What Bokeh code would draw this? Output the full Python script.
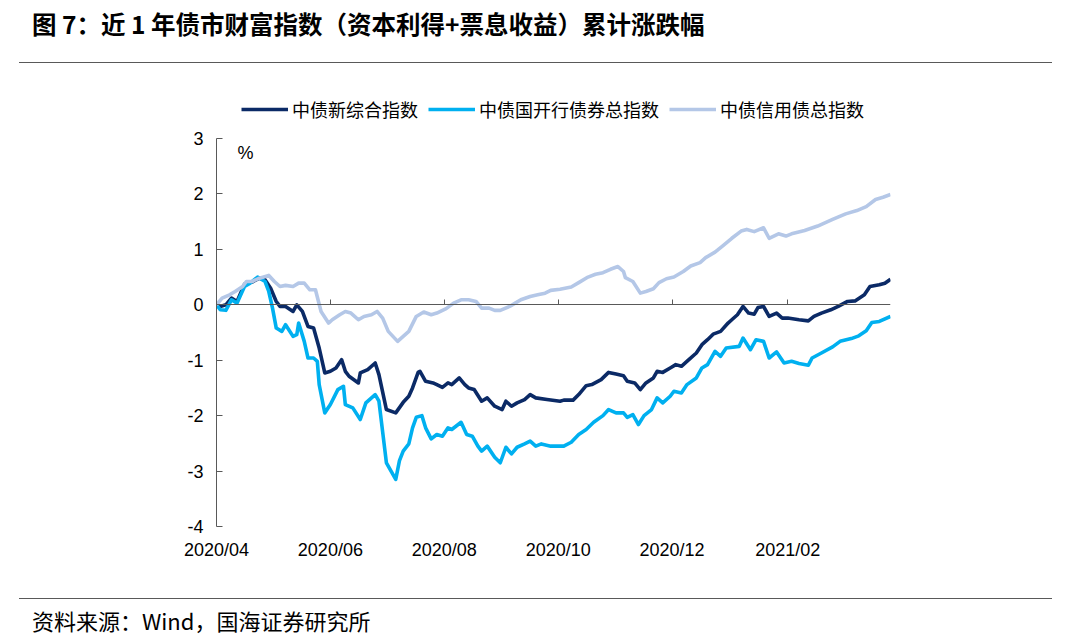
import pandas as pd
from bokeh.plotting import figure
from bokeh.models import (Range1d, DatetimeAxis, FixedTicker, DatetimeTickFormatter,
                          CustomJSTickFormatter, Legend, LegendItem, Label, Div, ColumnDataSource)
from bokeh.layouts import column
from bokeh.embed import file_html
from bokeh.resources import INLINE

TITLE = "图 7：近 1 年债市财富指数（资本利得+票息收益）累计涨跌幅"
SOURCE = "资料来源：Wind，国海证券研究所"
SERIES_NAMES = ["中债新综合指数", "中债国开行债券总指数", "中债信用债总指数"]
SERIES_COLORS = ["#0B2A66", "#00B0F0", "#B4C7E7"]
X_TICKS = ["2020-04-01", "2020-06-01", "2020-08-01", "2020-10-01", "2020-12-01", "2021-02-01"]
Y_TICKS = [-4, -3, -2, -1, 0, 1, 2, 3]
X_START = "2020-04-01"
X_END = "2021-03-28"

composite_dates = [
    "2020-04-01", "2020-04-03", "2020-04-06", "2020-04-09", "2020-04-12", "2020-04-16", "2020-04-20",
    "2020-04-24", "2020-04-27", "2020-04-30", "2020-05-03", "2020-05-05", "2020-05-08", "2020-05-12",
    "2020-05-14", "2020-05-17", "2020-05-20", "2020-05-23", "2020-05-26", "2020-05-29", "2020-06-01",
    "2020-06-04", "2020-06-07", "2020-06-09", "2020-06-11", "2020-06-16", "2020-06-17", "2020-06-21",
    "2020-06-25", "2020-06-27", "2020-07-01", "2020-07-06", "2020-07-10", "2020-07-13", "2020-07-15",
    "2020-07-18", "2020-07-19", "2020-07-22", "2020-07-26", "2020-07-28", "2020-07-31", "2020-08-03",
    "2020-08-05", "2020-08-09", "2020-08-12", "2020-08-14", "2020-08-17", "2020-08-21", "2020-08-24",
    "2020-08-28", "2020-09-01", "2020-09-03", "2020-09-06", "2020-09-09", "2020-09-13", "2020-09-16",
    "2020-09-19", "2020-09-25", "2020-10-02", "2020-10-04", "2020-10-09", "2020-10-12", "2020-10-16",
    "2020-10-19", "2020-10-24", "2020-10-28", "2020-11-01", "2020-11-05", "2020-11-07", "2020-11-11",
    "2020-11-14", "2020-11-17", "2020-11-21", "2020-11-23", "2020-11-26", "2020-11-30", "2020-12-03",
    "2020-12-06", "2020-12-10", "2020-12-14", "2020-12-17", "2020-12-20", "2020-12-23", "2020-12-27",
    "2020-12-31", "2021-01-02", "2021-01-05", "2021-01-08", "2021-01-11", "2021-01-14", "2021-01-16",
    "2021-01-19", "2021-01-22", "2021-01-26", "2021-01-29", "2021-02-01", "2021-02-07", "2021-02-12",
    "2021-02-15", "2021-02-19", "2021-02-24", "2021-02-28", "2021-03-05", "2021-03-09", "2021-03-14",
    "2021-03-17", "2021-03-22", "2021-03-25", "2021-03-28",
]
composite_values = [
    0.00, -0.03, 0.00, 0.12, 0.06, 0.37, 0.41,
    0.48, 0.45, 0.30, 0.06, -0.03, -0.03, -0.12,
    0.00, -0.12, -0.39, -0.42, -0.78, -1.23, -1.20,
    -1.14, -0.99, -1.20, -1.29, -1.41, -1.23, -1.17,
    -1.05, -1.26, -1.89, -1.95, -1.76, -1.65, -1.50,
    -1.22, -1.20, -1.38, -1.41, -1.44, -1.49, -1.41,
    -1.44, -1.32, -1.44, -1.50, -1.53, -1.74, -1.68,
    -1.83, -1.89, -1.74, -1.83, -1.77, -1.71, -1.62,
    -1.68, -1.71, -1.74, -1.72, -1.72, -1.62, -1.46,
    -1.44, -1.35, -1.22, -1.25, -1.28, -1.38, -1.41,
    -1.53, -1.41, -1.32, -1.20, -1.22, -1.14, -1.08,
    -1.11, -0.99, -0.87, -0.72, -0.63, -0.53, -0.48,
    -0.33, -0.27, -0.18, -0.03, -0.15, -0.17, -0.05,
    -0.03, -0.21, -0.15, -0.24, -0.24, -0.27, -0.29,
    -0.21, -0.15, -0.09, -0.03, 0.06, 0.07, 0.18,
    0.33, 0.36, 0.39, 0.46,
]

cdb_dates = [
    "2020-04-01", "2020-04-03", "2020-04-06", "2020-04-09", "2020-04-12", "2020-04-16", "2020-04-19",
    "2020-04-23", "2020-04-27", "2020-04-29", "2020-05-01", "2020-05-03", "2020-05-06", "2020-05-08",
    "2020-05-12", "2020-05-14", "2020-05-15", "2020-05-18", "2020-05-20", "2020-05-23", "2020-05-25",
    "2020-05-26", "2020-05-29", "2020-06-01", "2020-06-05", "2020-06-08", "2020-06-09", "2020-06-13",
    "2020-06-17", "2020-06-20", "2020-06-25", "2020-06-27", "2020-07-01", "2020-07-06", "2020-07-08",
    "2020-07-10", "2020-07-13", "2020-07-15", "2020-07-17", "2020-07-20", "2020-07-22", "2020-07-25",
    "2020-07-28", "2020-07-31", "2020-08-03", "2020-08-05", "2020-08-10", "2020-08-13", "2020-08-16",
    "2020-08-19", "2020-08-21", "2020-08-24", "2020-08-28", "2020-08-31", "2020-09-03", "2020-09-06",
    "2020-09-09", "2020-09-13", "2020-09-16", "2020-09-19", "2020-09-22", "2020-09-27", "2020-10-04",
    "2020-10-08", "2020-10-12", "2020-10-16", "2020-10-20", "2020-10-25", "2020-10-28", "2020-11-01",
    "2020-11-05", "2020-11-07", "2020-11-10", "2020-11-13", "2020-11-16", "2020-11-20", "2020-11-23",
    "2020-11-26", "2020-11-30", "2020-12-02", "2020-12-06", "2020-12-09", "2020-12-14", "2020-12-17",
    "2020-12-20", "2020-12-24", "2020-12-27", "2020-12-30", "2021-01-06", "2021-01-08", "2021-01-12",
    "2021-01-15", "2021-01-19", "2021-01-22", "2021-01-26", "2021-01-30", "2021-02-03", "2021-02-07",
    "2021-02-12", "2021-02-14", "2021-02-19", "2021-02-25", "2021-03-01", "2021-03-07", "2021-03-11",
    "2021-03-15", "2021-03-18", "2021-03-22", "2021-03-28",
]
cdb_values = [
    0.00, -0.09, -0.10, 0.09, 0.03, 0.33, 0.39,
    0.50, 0.42, 0.24, -0.06, -0.42, -0.48, -0.36,
    -0.57, -0.54, -0.33, -0.66, -0.96, -0.96, -1.02,
    -1.44, -1.95, -1.80, -1.53, -1.47, -1.80, -1.86,
    -2.07, -1.77, -1.62, -1.74, -2.85, -3.15, -2.81,
    -2.64, -2.51, -2.22, -2.03, -2.00, -2.22, -2.42,
    -2.34, -2.37, -2.22, -2.25, -2.12, -2.34, -2.37,
    -2.55, -2.64, -2.55, -2.75, -2.85, -2.57, -2.69,
    -2.57, -2.51, -2.46, -2.55, -2.51, -2.55, -2.55,
    -2.48, -2.34, -2.25, -2.12, -2.00, -1.89, -1.95,
    -1.95, -2.03, -1.98, -2.16, -2.00, -1.89, -1.68,
    -1.77, -1.65, -1.56, -1.59, -1.44, -1.32, -1.14,
    -1.08, -0.84, -0.93, -0.78, -0.75, -0.60, -0.81,
    -0.63, -0.66, -0.96, -0.85, -1.05, -1.02, -1.06,
    -1.09, -0.96, -0.87, -0.76, -0.66, -0.61, -0.56,
    -0.47, -0.32, -0.30, -0.21,
]

credit_dates = [
    "2020-04-01", "2020-04-04", "2020-04-08", "2020-04-11", "2020-04-15", "2020-04-17", "2020-04-20",
    "2020-04-24", "2020-04-29", "2020-05-02", "2020-05-05", "2020-05-08", "2020-05-12", "2020-05-15",
    "2020-05-18", "2020-05-21", "2020-05-24", "2020-05-27", "2020-05-31", "2020-06-02", "2020-06-06",
    "2020-06-09", "2020-06-12", "2020-06-16", "2020-06-19", "2020-06-23", "2020-06-26", "2020-06-29",
    "2020-07-02", "2020-07-07", "2020-07-10", "2020-07-13", "2020-07-17", "2020-07-21", "2020-07-25",
    "2020-07-28", "2020-08-02", "2020-08-06", "2020-08-10", "2020-08-14", "2020-08-18", "2020-08-21",
    "2020-08-25", "2020-08-28", "2020-08-31", "2020-09-05", "2020-09-08", "2020-09-11", "2020-09-16",
    "2020-09-20", "2020-09-24", "2020-09-27", "2020-10-02", "2020-10-08", "2020-10-12", "2020-10-17",
    "2020-10-21", "2020-10-25", "2020-10-29", "2020-11-02", "2020-11-05", "2020-11-06", "2020-11-10",
    "2020-11-14", "2020-11-17", "2020-11-21", "2020-11-24", "2020-11-28", "2020-12-02", "2020-12-07",
    "2020-12-11", "2020-12-16", "2020-12-19", "2020-12-24", "2020-12-28", "2021-01-02", "2021-01-07",
    "2021-01-10", "2021-01-14", "2021-01-19", "2021-01-22", "2021-01-27", "2021-01-31", "2021-02-03",
    "2021-02-10", "2021-02-17", "2021-02-25", "2021-03-04", "2021-03-10", "2021-03-15", "2021-03-20",
    "2021-03-24", "2021-03-28",
]
credit_values = [
    0.00, 0.12, 0.18, 0.24, 0.33, 0.42, 0.42,
    0.48, 0.53, 0.42, 0.33, 0.35, 0.33, 0.39,
    0.39, 0.27, 0.27, -0.12, -0.33, -0.27, -0.18,
    -0.12, -0.15, -0.27, -0.21, -0.18, -0.12, -0.24,
    -0.48, -0.66, -0.57, -0.48, -0.21, -0.13, -0.18,
    -0.15, -0.07, 0.03, 0.09, 0.09, 0.06, -0.06,
    -0.06, -0.10, -0.10, -0.03, 0.03, 0.09, 0.15,
    0.18, 0.21, 0.26, 0.28, 0.32, 0.40, 0.50,
    0.55, 0.58, 0.64, 0.69, 0.60, 0.49, 0.42,
    0.21, 0.24, 0.29, 0.40, 0.47, 0.50, 0.60,
    0.70, 0.76, 0.85, 0.95, 1.06, 1.20, 1.33,
    1.36, 1.32, 1.39, 1.20, 1.28, 1.24, 1.28,
    1.34, 1.42, 1.54, 1.64, 1.70, 1.77, 1.90,
    1.94, 1.99,
]

FONT_CJK = "Noto Sans CJK SC"
FONT_NUM = "Liberation Sans"

# frame extends above the value 3 so that legend and unit label fit inside it
Y_TOP = 3.884

p = figure(width=1064, height=529, output_backend="svg", toolbar_location=None,
           x_axis_type="datetime",
           x_range=Range1d(pd.Timestamp(X_START), pd.Timestamp(X_END)),
           y_range=Range1d(-4, Y_TOP),
           min_border_left=216, min_border_right=174, min_border_top=25, min_border_bottom=67)
p.outline_line_color = None
p.xgrid.visible = False
p.ygrid.visible = False
p.background_fill_color = "white"
p.border_fill_color = "white"

tick_ms = [pd.Timestamp(t).timestamp() * 1000 for t in X_TICKS]
fmt = "%Y/%m"

# label axis (bottom)
xa = p.xaxis[0]
xa.ticker = FixedTicker(ticks=tick_ms)
xa.formatter = DatetimeTickFormatter(days=fmt, months=fmt, years=fmt, hours=fmt, minutes=fmt,
                                     seconds=fmt, milliseconds=fmt, microseconds=fmt, minsec=fmt, hourmin=fmt)
xa.axis_line_color = None
xa.major_tick_line_color = None
xa.minor_tick_line_color = None
xa.major_label_standoff = 7
xa.major_label_text_font = FONT_NUM
xa.major_label_text_font_size = "18px"
xa.major_label_text_color = "#000000"

# zero-line axis with upward ticks
za = DatetimeAxis(fixed_location=0, ticker=FixedTicker(ticks=tick_ms),
                  formatter=CustomJSTickFormatter(code="return ''"))
za.axis_line_color = "#595959"
za.axis_line_width = 1
za.major_tick_line_color = "#595959"
za.major_tick_in = 5
za.major_tick_out = 0
za.minor_tick_line_color = None
za.major_label_text_font_size = "1px"
za.major_label_standoff = 0
p.add_layout(za, "below")

ya = p.yaxis[0]
ya.ticker = FixedTicker(ticks=Y_TICKS)
ya.bounds = (-4, 3)
ya.major_label_overrides = {t: str(t) for t in Y_TICKS}
ya.axis_line_color = "#595959"
ya.major_tick_line_color = "#595959"
ya.major_tick_in = 6
ya.major_tick_out = 0
ya.minor_tick_line_color = None
ya.major_label_standoff = 13
ya.major_label_text_font = FONT_NUM
ya.major_label_text_font_size = "18px"
ya.major_label_text_color = "#000000"

renderers = []
for dates, vals, color in [(composite_dates, composite_values, SERIES_COLORS[0]),
                           (cdb_dates, cdb_values, SERIES_COLORS[1]),
                           (credit_dates, credit_values, SERIES_COLORS[2])]:
    src = ColumnDataSource(dict(x=pd.to_datetime(dates), y=vals))
    renderers.append(p.line("x", "y", source=src, line_color=color, line_width=3.6,
                            line_join="round"))

legend = Legend(items=[LegendItem(label=n, renderers=[r]) for n, r in zip(SERIES_NAMES, renderers)],
                orientation="horizontal", location=(25, 404),
                label_text_font=FONT_CJK, label_text_font_size="18px", label_text_color="#000000",
                glyph_width=47, glyph_height=20, label_height=20, label_standoff=4, spacing=10,
                padding=0, margin=0, border_line_color=None, background_fill_alpha=0)
p.add_layout(legend, "center")

p.add_layout(Label(x=29, y=374, x_units="screen", y_units="screen", text="%",
                   text_align="center", text_baseline="middle", text_font=FONT_NUM,
                   text_font_size="18px", text_color="#000000"))

title_html = (
    '<div style="position:relative;width:1064px;height:54px;">'
    f'<div style="position:absolute;left:27px;top:5px;font-family:\'{FONT_CJK}\';font-weight:bold;'
    f'font-size:24.5px;line-height:28px;color:#000;white-space:nowrap;">{TITLE}</div>'
    '<div style="position:absolute;left:14px;top:57px;width:1033px;height:0;border-top:1px solid #595959;"></div>'
    '</div>'
)
source_html = (
    '<div style="position:relative;width:1064px;height:32px;">'
    '<div style="position:absolute;left:14px;top:0px;width:1033px;height:0;border-top:1px solid #595959;"></div>'
    f'<div style="position:absolute;left:27px;top:10px;font-family:\'{FONT_CJK}\';'
    f'font-size:22px;line-height:24px;color:#000;white-space:nowrap;">{SOURCE}</div>'
    '</div>'
)
title_div = Div(text=title_html, width=1064, height=54)
source_div = Div(text=source_html, width=1064, height=32)

layout = column(title_div, p, source_div, spacing=0)
open("out.html", "w").write(file_html(layout, INLINE))
